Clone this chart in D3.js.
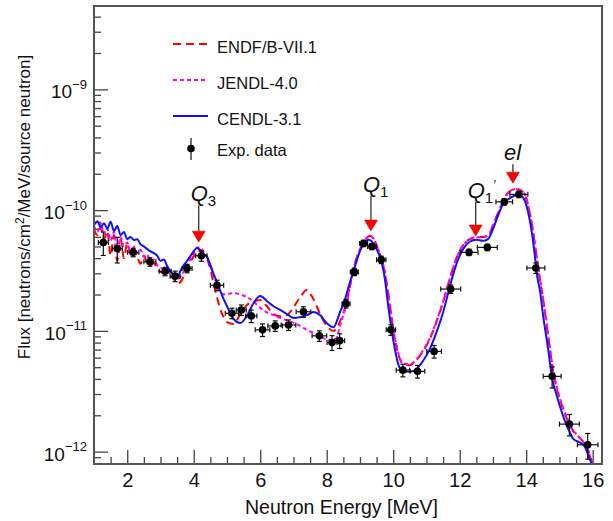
<!DOCTYPE html>
<html><head><meta charset="utf-8">
<script src="https://cdn.jsdelivr.net/npm/d3@7"></script>
<style>body{margin:0;background:#fff}svg{display:block;font-family:"Liberation Sans",Arial,Helvetica,sans-serif}</style>
</head><body><div id="chart"></div>
<script>
// ---------- data ----------
const expE = [1.28,1.70,2.18,2.68,3.14,3.44,3.80,4.23,4.70,5.15,5.43,5.73,6.07,6.45,6.85,7.30,7.78,8.16,8.39,8.58,8.83,9.11,9.36,9.64,9.93,10.29,10.73,11.23,11.73,12.28,12.83,13.34,13.78,14.29,14.78,15.30,15.85];
const expFlux = [5.4e-11,4.8e-11,4.47e-11,3.73e-11,3.11e-11,2.84e-11,3.29e-11,4.19e-11,2.39e-11,1.40e-11,1.49e-11,1.33e-11,1.02e-11,1.10e-11,1.12e-11,1.44e-11,9.1e-12,8.0e-12,8.3e-12,1.68e-11,3.08e-11,5.3e-11,5.0e-11,3.88e-11,1.02e-11,4.73e-12,4.62e-12,6.76e-12,2.22e-11,4.47e-11,4.91e-11,1.17e-10,1.35e-10,3.32e-11,4.2e-12,1.69e-12,1.14e-12];
const expEErr = [0.15,0.15,0.17,0.18,0.18,0.15,0.15,0.17,0.2,0.2,0.15,0.17,0.22,0.22,0.22,0.22,0.22,0.15,0.15,0.12,0.12,0.12,0.13,0.14,0.14,0.2,0.22,0.22,0.3,0.27,0.3,0.25,0.27,0.27,0.27,0.3,0.31];
const expRelErr = [0.22,0.24,0.08,0.08,0.08,0.1,0.08,0.1,0.1,0.1,0.1,0.12,0.12,0.1,0.1,0.1,0.1,0.14,0.14,0.08,0.07,0.06,0.06,0.07,0.1,0.12,0.12,0.12,0.08,0.06,0.06,0.06,0.06,0.1,0.2,0.2,0.24];

const cendlE = [1.0,1.1,1.2,1.3,1.4,1.5,1.6,1.7,1.8,1.9,2.0,2.1,2.2,2.3,2.4,2.5,2.6,2.7,2.8,2.9,3.0,3.1,3.2,3.3,3.4,3.5,3.6,3.7,3.8,3.9,4.0,4.1,4.2,4.3,4.4,4.5,4.6,4.7,4.8,4.9,5.0,5.2,5.4,5.6,5.8,6.0,6.2,6.4,6.6,6.8,7.0,7.2,7.4,7.6,7.8,8.0,8.2,8.4,8.55,8.7,8.85,9.0,9.15,9.25,9.35,9.5,9.65,9.75,9.85,9.95,10.05,10.15,10.25,10.5,10.7,10.9,11.1,11.3,11.5,11.7,11.9,12.1,12.3,12.5,12.7,12.85,13.0,13.15,13.3,13.5,13.7,13.85,13.96,14.06,14.17,14.26,14.33,14.42,14.51,14.66,14.77,14.92,15.07,15.22,15.31,15.42,15.62,15.77,15.87,15.97];
const cendlFlux = [7.5e-11,8.1e-11,7.2e-11,7.8e-11,7.0e-11,8.0e-11,6.7e-11,7.4e-11,6.2e-11,6.6e-11,5.75e-11,6.0e-11,5.65e-11,5.75e-11,5.2e-11,5.0e-11,4.75e-11,4.55e-11,4.4e-11,4.2e-11,3.8e-11,3.9e-11,3.44e-11,3.13e-11,2.9e-11,2.79e-11,3.13e-11,3.5e-11,3.8e-11,4.16e-11,4.58e-11,4.85e-11,4.66e-11,4.32e-11,4.1e-11,3.5e-11,2.95e-11,2.53e-11,2.13e-11,1.83e-11,1.6e-11,1.25e-11,1.16e-11,1.33e-11,1.7e-11,1.94e-11,1.77e-11,1.6e-11,1.49e-11,1.38e-11,1.28e-11,1.3e-11,1.35e-11,1.43e-11,1.35e-11,1.16e-11,1.07e-11,1.43e-11,1.83e-11,2.54e-11,3.43e-11,4.58e-11,5.43e-11,5.67e-11,5.53e-11,4.75e-11,3.71e-11,2.69e-11,1.61e-11,1.03e-11,7.07e-12,5.31e-12,4.67e-12,4.58e-12,4.83e-12,5.65e-12,7.07e-12,9.72e-12,1.42e-11,2.31e-11,3.57e-11,4.75e-11,5.47e-11,5.68e-11,5.57e-11,5.75e-11,6.96e-11,8.97e-11,1.12e-10,1.25e-10,1.33e-10,1.31e-10,1.19e-10,9.57e-11,6.54e-11,4.19e-11,2.86e-11,2.09e-11,1.33e-11,7.07e-12,4.2e-12,2.9e-12,2.13e-12,1.64e-12,1.45e-12,1.27e-12,1.19e-12,1.09e-12,9.25e-13,7.9e-13];

const endfE = [1.0,1.1,1.2,1.3,1.4,1.5,1.6,1.7,1.8,1.9,2.0,2.1,2.2,2.3,2.4,2.5,2.6,2.7,2.8,2.9,3.0,3.2,3.4,3.5,3.6,3.8,4.0,4.1,4.2,4.3,4.4,4.5,4.6,4.7,4.8,4.9,5.0,5.2,5.4,5.6,5.8,6.0,6.2,6.4,6.6,6.8,7.0,7.2,7.4,7.6,7.8,8.0,8.2,8.4,8.6,8.8,9.0,9.2,9.3,9.4,9.5,9.6,9.7,9.8,9.9,10.0,10.1,10.2,10.3,10.5,10.7,10.9,11.1,11.3,11.5,11.7,11.9,12.1,12.3,12.5,12.7,12.9,13.0,13.2,13.4,13.55,13.7,13.85,14.0,14.1,14.2,14.3,14.4,14.5,14.6,14.7,14.8,14.95,15.1,15.25,15.4,15.55,15.7,15.85,16.0];
const endfFlux = [6.96e-11,6.2e-11,7.2e-11,5.75e-11,6.7e-11,4.2e-11,6.2e-11,3.78e-11,5.75e-11,4.0e-11,5.33e-11,4.3e-11,4.75e-11,4.08e-11,3.6e-11,4.2e-11,3.6e-11,3.5e-11,3.64e-11,3.25e-11,3.07e-11,2.9e-11,2.69e-11,2.44e-11,2.54e-11,3.25e-11,4.16e-11,4.58e-11,4.58e-11,4.32e-11,3.93e-11,3.25e-11,2.44e-11,1.9e-11,1.51e-11,1.3e-11,1.18e-11,1.14e-11,1.38e-11,1.64e-11,1.74e-11,1.8e-11,1.6e-11,1.38e-11,1.32e-11,1.35e-11,1.57e-11,1.9e-11,2.18e-11,1.83e-11,1.38e-11,1.1e-11,1.0e-11,1.2e-11,1.73e-11,3.25e-11,4.75e-11,5.9e-11,6.1e-11,5.9e-11,5.1e-11,4.32e-11,3.5e-11,2.5e-11,1.64e-11,1.03e-11,7.4e-12,5.85e-12,5.31e-12,5.2e-12,5.75e-12,6.8e-12,8.55e-12,1.18e-11,1.73e-11,2.69e-11,4.0e-11,5.1e-11,5.75e-11,5.98e-11,5.98e-11,6.45e-11,7.5e-11,1.02e-10,1.33e-10,1.46e-10,1.49e-10,1.45e-10,1.25e-10,9.6e-11,6.8e-11,4.3e-11,2.8e-11,1.9e-11,1.2e-11,7.5e-12,4.8e-12,3.1e-12,2.3e-12,1.8e-12,1.5e-12,1.35e-12,1.22e-12,1.05e-12,7.8e-13];

const jendlE = [1.0,1.1,1.2,1.3,1.4,1.5,1.6,1.7,1.8,1.9,2.0,2.1,2.2,2.3,2.4,2.5,2.6,2.7,2.8,2.9,3.0,3.2,3.4,3.5,3.6,3.8,4.0,4.1,4.2,4.3,4.4,4.5,4.6,4.7,4.8,4.9,5.0,5.2,5.4,5.6,5.8,6.0,6.2,6.4,6.6,6.8,7.0,7.2,7.4,7.6,7.8,8.0,8.2,8.3,8.4,8.6,8.8,9.0,9.2,9.3,9.4,9.5,9.6,9.7,9.8,9.9,10.0,10.1,10.2,10.3,10.5,10.7,10.9,11.1,11.3,11.5,11.7,11.9,12.1,12.3,12.5,12.7,12.9,13.0,13.2,13.4,13.55,13.7,13.85,14.0,14.1,14.2,14.3,14.4,14.5,14.6,14.7,14.8,14.95,15.1,15.25,15.4,15.55,15.7,15.85,16.0];
const jendlFlux = [7.4e-11,6.6e-11,7.8e-11,6.2e-11,7.0e-11,5.6e-11,6.6e-11,4.6e-11,6.0e-11,5.0e-11,5.4e-11,4.3e-11,5.0e-11,4.4e-11,4.7e-11,4.1e-11,4.3e-11,3.8e-11,3.9e-11,3.5e-11,3.35e-11,3.1e-11,2.85e-11,2.7e-11,2.8e-11,3.5e-11,4.4e-11,4.9e-11,4.9e-11,4.5e-11,4.1e-11,3.5e-11,2.85e-11,2.4e-11,2.1e-11,2.0e-11,2.02e-11,2.05e-11,2.0e-11,1.9e-11,1.75e-11,1.55e-11,1.42e-11,1.35e-11,1.28e-11,1.22e-11,1.17e-11,1.1e-11,1.02e-11,9.6e-12,9.0e-12,8.5e-12,8.4e-12,8.8e-12,1.1e-11,1.7e-11,3.2e-11,4.7e-11,5.85e-11,6.05e-11,5.85e-11,5.1e-11,4.35e-11,3.55e-11,2.5e-11,1.66e-11,1.05e-11,7.5e-12,5.95e-12,5.4e-12,5.3e-12,5.8e-12,6.9e-12,8.7e-12,1.2e-11,1.75e-11,2.7e-11,4.0e-11,5.1e-11,5.7e-11,5.95e-11,5.95e-11,6.4e-11,7.45e-11,1.01e-10,1.32e-10,1.46e-10,1.5e-10,1.46e-10,1.27e-10,9.8e-11,7.0e-11,4.4e-11,2.9e-11,1.95e-11,1.25e-11,7.8e-12,5.0e-12,3.2e-12,2.35e-12,1.85e-12,1.52e-12,1.36e-12,1.22e-12,1.04e-12,7.7e-13];

const seriesNames = ["ENDF/B-VII.1","JENDL-4.0","CENDL-3.1"];
const expName = "Exp. data";

const arrowE = [4.15, 9.33, 12.48, 13.6];
const arrowTipFlux = [5.43e-11, 6.7e-11, 6.1e-11, 1.67e-10];
const arrowLabels = ["Q3","Q1","Q1'","el"];

const xTicks = [2,4,6,8,10,12,14,16];
const yTicks = [1e-12,1e-11,1e-10,1e-9];
const yTickExp = ["−12","−11","−10","−9"];
const xTitle = "Neutron Energy [MeV]";

// ---------- layout ----------
const W = 613, H = 521;
const L = 94, T = 6, R = 602, B = 464;
const svg = d3.select("#chart").append("svg").attr("width", W).attr("height", H);

const x = d3.scaleLinear().domain([1.0, 16.28]).range([L, R]);
const y = d3.scaleLog().domain([7.9e-13, 4.9e-9]).range([B, T]);

svg.append("defs").append("clipPath").attr("id","clip")
  .append("rect").attr("x",L).attr("y",T).attr("width",R-L).attr("height",B-T);

const tickColor = "#444";

// x axis major + minor (inward)
const xMinor = [];
for (let v = 1.5; v < 16.2; v += 0.5) if (Math.abs(v/2 - Math.round(v/2)) > 1e-6) xMinor.push(+v.toFixed(1));
const gxMinor = svg.append("g").attr("transform",`translate(0,${B})`)
  .call(d3.axisBottom(x).tickValues(xMinor).tickSizeInner(-7).tickSizeOuter(0).tickFormat(""));
const gx = svg.append("g").attr("transform",`translate(0,${B})`)
  .call(d3.axisBottom(x).tickValues(xTicks).tickSizeInner(-14).tickSizeOuter(0).tickPadding(9).tickFormat(d3.format("d")));
[gxMinor, gx].forEach(g => { g.select(".domain").remove(); g.selectAll("line").attr("stroke",tickColor).attr("stroke-width",1.3); });
gx.selectAll("text").attr("font-size",20).attr("fill","#111").attr("font-family","Liberation Sans, Arial, sans-serif");

// y axis major + minor
const yMinor = [];
for (let e = -13; e <= -9; e++) for (let m = 2; m <= 9; m++) { const v = m*Math.pow(10,e); if (v > 7.9e-13 && v < 4.9e-9) yMinor.push(v); }
const gyMinor = svg.append("g").attr("transform",`translate(${L},0)`)
  .call(d3.axisLeft(y).tickValues(yMinor).tickSizeInner(-7).tickSizeOuter(0).tickFormat(""));
const gy = svg.append("g").attr("transform",`translate(${L},0)`)
  .call(d3.axisLeft(y).tickValues(yTicks).tickSizeInner(-14).tickSizeOuter(0).tickFormat(""));
[gyMinor, gy].forEach(g => { g.select(".domain").remove(); g.selectAll("line").attr("stroke",tickColor).attr("stroke-width",1.3); });

yTicks.forEach((v,i) => {
  const t = svg.append("text").attr("x", 87).attr("y", y(v) + 9)
    .attr("text-anchor","end").attr("font-size",19).attr("fill","#111");
  t.append("tspan").text("10");
  t.append("tspan").attr("dy",-9.5).attr("font-size",13).text(yTickExp[i]);
});

// axis titles
svg.append("text").attr("x",341.5).attr("y",514).attr("text-anchor","middle")
  .attr("font-size",19.5).attr("fill","#111").text(xTitle);
const yt = svg.append("text").attr("transform","translate(30,207) rotate(-90)")
  .attr("text-anchor","middle").attr("font-size",17).attr("fill","#111");
yt.append("tspan").text("Flux [neutrons/cm");
yt.append("tspan").attr("dy",-6).attr("font-size",12).text("2");
yt.append("tspan").attr("dy",6).text("/MeV/source neutron]");

// curves
const plot = svg.append("g").attr("clip-path","url(#clip)");
const line = d3.line().x(d => x(d[0])).y(d => y(d[1])).curve(d3.curveMonotoneX);
const styles = [
  {E: endfE, F: endfFlux, color: "#ff0000", dash: "8,5"},
  {E: jendlE, F: jendlFlux, color: "#ff00ff", dash: "4,3"},
  {E: cendlE, F: cendlFlux, color: "#1010ff", dash: null}
];
styles.forEach(s => {
  const pts = s.E.map((e,i) => [e, s.F[i]]);
  plot.append("path").datum(pts).attr("d", line).attr("fill","none")
    .attr("stroke", s.color).attr("stroke-width", 2)
    .attr("stroke-dasharray", s.dash);
});

// experimental data
const eg = plot.append("g").attr("stroke","#111").attr("stroke-width",1.2);
expE.forEach((e,i) => {
  const f = expFlux[i];
  const cx = x(e), cy = y(f);
  const x0 = x(e - expEErr[i]), x1 = x(e + expEErr[i]);
  const y0 = y(f*(1+expRelErr[i])), y1 = y(f*(1-expRelErr[i]));
  eg.append("line").attr("x1",x0).attr("x2",x1).attr("y1",cy).attr("y2",cy);
  eg.append("line").attr("x1",x0).attr("x2",x0).attr("y1",cy-2.5).attr("y2",cy+2.5);
  eg.append("line").attr("x1",x1).attr("x2",x1).attr("y1",cy-2.5).attr("y2",cy+2.5);
  eg.append("line").attr("x1",cx).attr("x2",cx).attr("y1",y0).attr("y2",y1);
  eg.append("line").attr("x1",cx-2.5).attr("x2",cx+2.5).attr("y1",y0).attr("y2",y0);
  eg.append("line").attr("x1",cx-2.5).attr("x2",cx+2.5).attr("y1",y1).attr("y2",y1);
});
plot.append("g").selectAll("circle").data(expE).join("circle")
  .attr("cx", d => x(d)).attr("cy", (d,i) => y(expFlux[i])).attr("r", 3.8).attr("fill","#000");

// arrows
const arrowLen = [26, 24, 23, 8];
const ag = svg.append("g");
arrowE.forEach((e,i) => {
  const ax = x(e), tip = y(arrowTipFlux[i]);
  const triTop = tip - 11;
  ag.append("line").attr("x1",ax).attr("x2",ax).attr("y1",triTop - arrowLen[i]).attr("y2",triTop)
    .attr("stroke","#333").attr("stroke-width",1.3);
  ag.append("path").attr("d",`M${ax-6.5},${triTop}L${ax+6.5},${triTop}L${ax},${tip}Z`).attr("fill","#f00").attr("stroke","#c00").attr("stroke-width",0.5);
  const lx = ax - 8, ly = triTop - arrowLen[i] - 4;
  const lab = arrowLabels[i];
  if (lab === "el") {
    ag.append("text").attr("x", ax - 9).attr("y", ly).attr("font-size",22).attr("font-style","italic").attr("fill","#111").text("el");
  } else {
    const t = ag.append("text").attr("x", lx).attr("y", ly).attr("font-size",22).attr("fill","#111");
    t.append("tspan").attr("font-style","italic").text("Q");
    t.append("tspan").attr("dy",5).attr("font-size",15).text(lab.charAt(1));
    if (lab.endsWith("'")) {
      t.append("tspan").attr("dx",0.5).attr("dy",-14).attr("font-size",12).text("′");
    }
  }
});

// legend
const lg = svg.append("g");
const legY = [44, 80, 116];
styles.forEach((s,i) => {
  lg.append("line").attr("x1",173).attr("x2",208).attr("y1",legY[i]).attr("y2",legY[i])
    .attr("stroke",s.color).attr("stroke-width",2).attr("stroke-dasharray",s.dash);
  lg.append("text").attr("x",217).attr("y",legY[i]+8.5).attr("font-size",16.5).attr("fill","#111").text(seriesNames[i]);
});
lg.append("line").attr("x1",191).attr("x2",191).attr("y1",138).attr("y2",160).attr("stroke","#111").attr("stroke-width",1.2);
lg.append("circle").attr("cx",191).attr("cy",148.5).attr("r",3.8).attr("fill","#000");
lg.append("text").attr("x",217).attr("y",156).attr("font-size",16.5).attr("fill","#111").text(expName);

// frame
svg.append("rect").attr("x",L).attr("y",T).attr("width",R-L).attr("height",B-T)
  .attr("fill","none").attr("stroke","#555").attr("stroke-width",2);
</script></body></html>
